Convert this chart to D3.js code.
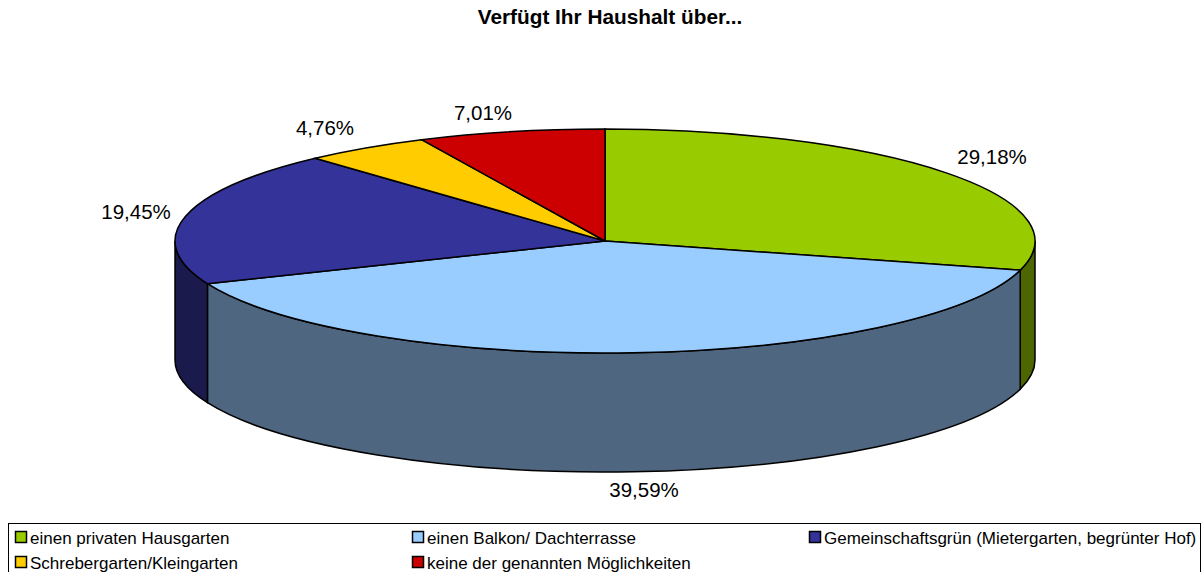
<!DOCTYPE html>
<head>
  <meta charset="utf-8">
  <script src="https://d3js.org/d3.v7.min.js"></script>
  <style>
    body { margin:0; background:#fff; }
    svg { display:block; }
    text { font-family:"Liberation Sans", Arial, sans-serif; fill:#000; }
    .title { font-size:20.8px; font-weight:bold; text-anchor:middle; }
    .label { font-size:20.5px; text-anchor:middle; }
    .legend-text { font-size:17px; }
  </style>
</head>

<body>
  <svg id="chart" width="1204" height="572"></svg>
  <script>
  var title = "Verfügt Ihr Haushalt über...";
  var categories = ["einen privaten Hausgarten", "einen Balkon/ Dachterrasse", "Gemeinschaftsgrün (Mietergarten, begrünter Hof)", "Schrebergarten/Kleingarten", "keine der genannten Möglichkeiten"];
  var values = [29.18, 39.59, 19.45, 4.76, 7.01];
  var valueLabels = ["29,18%", "39,59%", "19,45%", "4,76%", "7,01%"];
  var topColors = ["#99cc00", "#99ccff", "#333399", "#ffcc00", "#cc0000"];
  var sideColors = ["#4d6600", "#4f6680", "#1a1a4d", "#806600", "#660000"];

  var cx = 605, cy = 241, rx = 430, ry = 112, depth = 119;

  var svg = d3.select("#chart");

  svg.append("text").attr("class", "title")
    .attr("x", 610).attr("y", 24).text(title);

  var arcs = d3.pie().sort(null).value(function(d) { return d; })(values);

  function px(a) { return cx + rx * Math.sin(a); }
  function py(a) { return cy - ry * Math.cos(a); }

  // front wall of one slice, only the part facing the viewer (90deg..270deg)
  function sidePath(a0, a1) {
    var s = Math.max(a0, Math.PI / 2), e = Math.min(a1, 3 * Math.PI / 2);
    if (s >= e) return null;
    return "M" + px(s) + "," + py(s) +
      "A" + rx + "," + ry + " 0 0 1 " + px(e) + "," + py(e) +
      "L" + px(e) + "," + (py(e) + depth) +
      "A" + rx + "," + ry + " 0 0 0 " + px(s) + "," + (py(s) + depth) + "Z";
  }

  svg.append("g").selectAll("path")
    .data(arcs)
    .join("path")
    .attr("d", function(d) { return sidePath(d.startAngle, d.endAngle); })
    .attr("fill", function(d, i) { return sideColors[i]; })
    .attr("stroke", "#000")
    .attr("stroke-width", 1.5);

  // top face: a flat d3 pie squashed to an ellipse
  var arc = d3.arc().innerRadius(0).outerRadius(rx);
  svg.append("g")
    .attr("transform", "translate(" + cx + "," + cy + ") scale(1," + (ry / rx) + ")")
    .selectAll("path")
    .data(arcs)
    .join("path")
    .attr("d", arc)
    .attr("fill", function(d, i) { return topColors[i]; })
    .attr("stroke", "#000")
    .attr("stroke-width", 1.5)
    .attr("vector-effect", "non-scaling-stroke");

  // data labels, sit just outside the pie
  var labelPos = [[992, 164], [644, 497], [136, 219], [325, 135], [483, 120]];
  svg.append("g").selectAll("text")
    .data(valueLabels)
    .join("text")
    .attr("class", "label")
    .attr("x", function(d, i) { return labelPos[i][0]; })
    .attr("y", function(d, i) { return labelPos[i][1]; })
    .text(function(d) { return d; });

  // legend
  svg.append("rect")
    .attr("x", 8.5).attr("y", 523.5).attr("width", 1192).attr("height", 60)
    .attr("fill", "#fff").attr("stroke", "#000");

  var legendX = [15, 412, 809, 15, 412];
  var legendY = [537, 537, 537, 562, 562];
  var legend = svg.append("g").selectAll("g")
    .data(categories)
    .join("g")
    .attr("transform", function(d, i) { return "translate(" + legendX[i] + "," + legendY[i] + ")"; });

  legend.append("rect")
    .attr("x", 0.5).attr("y", -5.5).attr("width", 11).attr("height", 11)
    .attr("fill", function(d, i) { return topColors[i]; })
    .attr("stroke", "#000")
    .attr("stroke-width", 1.5);

  legend.append("text")
    .attr("class", "legend-text")
    .attr("x", 15).attr("y", 7)
    .text(function(d) { return d; });
  </script>
</body>
